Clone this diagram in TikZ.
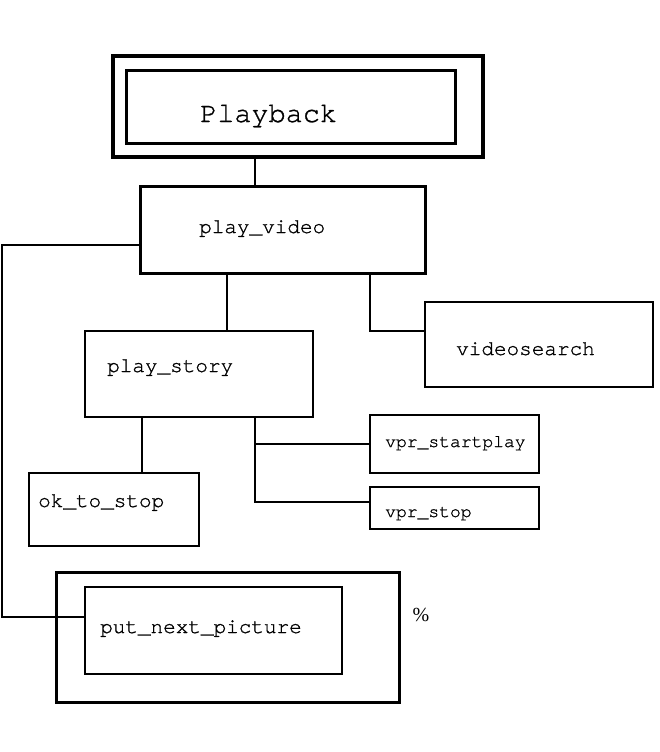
\documentclass[tikz,border=0pt]{standalone}
\usepackage{fontspec}
\setmonofont[FakeBold=1]{texgyrecursor-regular.otf}
\setmainfont{Liberation Serif}
\begin{document}
\begin{tikzpicture}[x=1pt,y=-1pt,
  boxthick/.style={draw, line width=3pt, inner sep=0pt},
  boxthin/.style={draw, line width=1.8pt, inner sep=0pt},
  lbl/.style={anchor=base west, inner sep=0pt, font=\ttfamily\fontsize{21}{24}\selectfont},
  lblsmall/.style={anchor=base west, inner sep=0pt, font=\ttfamily\fontsize{18}{21}\selectfont},
  conn/.style={line width=1.4pt}]
\useasboundingbox (0,0) rectangle (659,752);
% boxes
\node[boxthick, line width=3.5pt, minimum width=370pt, minimum height=101pt] (pbo) at (298,106.5) {};
\node[boxthick, minimum width=329pt, minimum height=72pt] (pbi) at (290.5,107) {};
\node[boxthick, minimum width=285pt, minimum height=87pt] (pv) at (282.5,229.5) {};
\node[boxthin, minimum width=228pt, minimum height=85pt] (vs) at (539,344.5) {};
\node[boxthin, minimum width=228pt, minimum height=86pt] (ps) at (199,374) {};
\node[boxthin, minimum width=170pt, minimum height=73pt] (ok) at (114,509.5) {};
\node[boxthin, minimum width=169pt, minimum height=58pt] (vsp) at (454.5,444) {};
\node[boxthin, minimum width=169pt, minimum height=42pt] (vst) at (454.5,508) {};
\node[boxthick, minimum width=343pt, minimum height=130pt] (pno) at (227.5,637) {};
\node[boxthin, minimum width=257pt, minimum height=87pt] (pni) at (213.5,630.5) {};
% labels
\node[lbl, font=\ttfamily\fontsize{28.5}{32}\selectfont] (tpb) at (200,122) {Playback};
\node[lbl] (tpv) at (199,233) {play\_video};
\node[lbl] (tvs) at (456,355) {videosearch};
\node[lbl] (tps) at (107,372) {play\_story};
\node[lbl] (tok) at (38,507) {ok\_to\_stop};
\node[lblsmall] (tvsp) at (385,447) {vpr\_startplay};
\node[lblsmall] (tvst) at (385,517) {vpr\_stop};
\node[lbl] (tpn) at (100,633) {put\_next\_picture};
\node[inner sep=0pt, font=\fontsize{20}{22}\selectfont] (pct) at (421,615) {\%};
% junction coordinates
\coordinate (xa) at (255,0);
\coordinate (xb) at (227,0);
\coordinate (xc) at (370,331);
\coordinate (xd) at (142,0);
\coordinate (xe) at (255,444);
\coordinate (xf) at (255,502);
\coordinate (la) at (2,245);
\coordinate (lb) at (2,617);
% connectors
\draw[conn] (pbo.south -| xa) -- (pv.north -| xa);
\draw[conn] (pv.south -| xb) -- (ps.north -| xb);
\draw[conn] (pv.south -| xc) -- (xc) -- (vs.west |- xc);
\draw[conn] (ps.south -| xd) -- (ok.north -| xd);
\draw[conn] (ps.south -| xe) -- (xf) -- (vst.west |- xf);
\draw[conn] (xe) -- (vsp.west);
\draw[conn] (pv.west |- la) -- (la) -- (lb) -- (pni.west |- lb);
\end{tikzpicture}
\end{document}
